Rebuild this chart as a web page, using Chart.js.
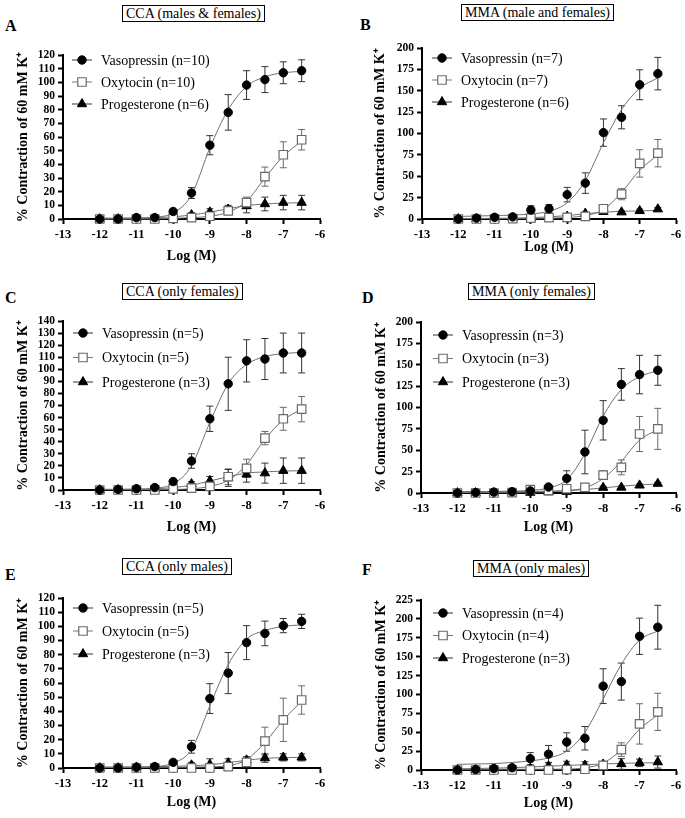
<!DOCTYPE html>
<html><head><meta charset="utf-8">
<script src="https://cdn.jsdelivr.net/npm/chart.js@4.4.1/dist/chart.umd.min.js"></script>
<style>
html,body{margin:0;padding:0;background:#fff;}
body{width:685px;height:818px;position:relative;overflow:hidden;font-family:'Liberation Serif','Times New Roman',serif;color:#000;}
.letter{position:absolute;font-weight:bold;font-size:16px;line-height:16px;}
.box{position:absolute;border:1.5px solid #000;font-size:14px;line-height:14px;padding:1px 3px 0 3px;white-space:nowrap;}
.cw{position:absolute;}
.cw canvas{display:block;}
.preload{position:absolute;left:-1000px;top:0;font-weight:bold;}
</style></head><body>
<span class="preload">Log (M) 0123456789</span>
<div class="letter" style="left:5px;top:18px">A</div>
<div class="box" style="left:122px;top:5px">CCA (males &amp; females)</div>
<div class="letter" style="left:360px;top:17px">B</div>
<div class="box" style="left:461px;top:4px">MMA (male and females)</div>
<div class="letter" style="left:5px;top:290px">C</div>
<div class="box" style="left:122px;top:283px">CCA (only females)</div>
<div class="letter" style="left:362px;top:290px">D</div>
<div class="box" style="left:468px;top:283px">MMA (only females)</div>
<div class="letter" style="left:5px;top:567px">E</div>
<div class="box" style="left:122px;top:558px">CCA (only males)</div>
<div class="letter" style="left:362px;top:562px">F</div>
<div class="box" style="left:473px;top:560px">MMA (only males)</div>

<div class="cw" id="wA"><canvas id="cA"></canvas></div>
<div class="cw" id="wB"><canvas id="cB"></canvas></div>
<div class="cw" id="wC"><canvas id="cC"></canvas></div>
<div class="cw" id="wD"><canvas id="cD"></canvas></div>
<div class="cw" id="wE"><canvas id="cE"></canvas></div>
<div class="cw" id="wF"><canvas id="cF"></canvas></div>

<script>
// ---------------- DATA ----------------
const logConc = [-12, -11.5, -11, -10.5, -10, -9.5, -9, -8.5, -8, -7.5, -7, -6.5];
const xTickValues = [-13, -12, -11, -10, -9, -8, -7, -6];
const seriesNames = ['Vasopressin', 'Oxytocin', 'Progesterone'];
const yAxisTitle = '% Contraction of 60 mM K\u207A';
const xAxisTitle = 'Log (M)';
const panelIds = ['A', 'B', 'C', 'D', 'E', 'F'];
const yMaxes = [120, 200, 140, 200, 120, 225];
const ySteps = [10, 25, 10, 25, 10, 25];

// Panel A: CCA (males & females)
const A_n = [10, 10, 6];
const A_vaso = [0, 0, 1, 1, 5.5, 19, 54, 78, 98, 102, 107, 108.5];
const A_vasoErr = [0.5, 0.5, 0.5, 1, 1.5, 4, 7, 13, 10.5, 9.5, 8, 8];
const A_oxy = [0, 0, 0, 0, 0.5, 1, 2, 6, 12, 31, 47, 58];
const A_oxyErr = [0, 0, 0, 0, 0.5, 1, 1.5, 2, 4, 7, 9.5, 7.5];
const A_prog = [0, 0, 0.5, 0.5, 1, 3, 5, 7, 9.5, 11, 12, 12];
const A_progErr = [0, 0, 0.5, 0.5, 1, 1.5, 2.5, 3, 5, 5, 5.3, 5.3];
const A_vasoFit = [0.5, 0.5, 0.6, 1.2, 4.5, 17.5, 52, 80, 97, 104, 107, 108];
const A_oxyFit = [0, 0, 0, 0.2, 0.5, 1, 2, 5, 13, 30, 46, 57];
const A_progFit = [0.5, 0.6, 0.7, 1, 1.6, 3, 5, 7.5, 9.8, 11, 11.6, 12];

// Panel B: MMA (male and females)
const B_n = [7, 7, 6];
const B_vaso = [0, 1, 2, 2.5, 10.5, 12, 28.5, 42, 101, 119, 157, 170];
const B_vasoErr = [0.5, 0.5, 1, 1, 5, 5, 8.5, 12, 16, 13.5, 17.5, 19];
const B_oxy = [0, 0, 0, 0.5, 1, 1.5, 2, 3, 12, 29, 65, 77];
const B_oxyErr = [0, 0, 0, 0.5, 0.5, 1, 1, 1.5, 3, 6.5, 16, 16];
const B_prog = [0, 0, 0.5, 1, 1, 2, 3, 6.5, 8.5, 8, 9.5, 11.5];
const B_progErr = [0, 0, 0.5, 0.5, 0.5, 1, 1, 1.5, 2, 1.5, 2, 2];
const B_vasoFit = [3, 3.5, 4, 4.5, 6, 9, 19, 45, 89, 128, 153, 165];
const B_oxyFit = [0.5, 0.5, 0.5, 0.6, 0.8, 1, 1.8, 4, 11, 31, 57, 75];
const B_progFit = [0.5, 0.6, 0.8, 1, 1.5, 2.5, 4, 6.2, 8, 9, 9.5, 10];

// Panel C: CCA (only females)
const C_n = [5, 5, 3];
const C_vaso = [0, 0.5, 1, 2, 7, 24, 59, 88, 107, 108.5, 113.5, 113.5];
const C_vasoErr = [0.5, 0.5, 0.5, 1, 1.5, 6, 10.5, 22, 17.5, 17, 16.5, 16.5];
const C_oxy = [0, 0, 0, 0, 1, 1.5, 3, 11, 18, 43, 59, 67];
const C_oxyErr = [0, 0, 0, 0, 0.5, 1, 1.5, 6.5, 7.5, 5.5, 9.5, 10.5];
const C_prog = [0, 0, 0.5, 1, 2, 5, 7.5, 10, 13, 14, 16, 16];
const C_progErr = [0, 0, 0.5, 0.5, 1, 2, 3.7, 7, 6.5, 8.3, 10.5, 10.5];
const C_vasoFit = [0.5, 0.5, 0.7, 1.5, 5, 20, 56, 88, 104, 110.5, 113, 114];
const C_oxyFit = [0.3, 0.3, 0.3, 0.4, 0.5, 1, 3, 8, 21, 42, 58, 67];
const C_progFit = [0.5, 0.5, 0.7, 1, 2, 4, 7.5, 11, 14, 15, 15.7, 16];

// Panel D: MMA (only females)
const D_n = [3, 3, 3];
const D_vaso = [0, 0.5, 1, 1.5, 2.5, 7, 17, 48, 85, 127, 138.5, 143.5];
const D_vasoErr = [0.5, 0.5, 0.5, 0.5, 1, 3, 9, 25.5, 23, 18.5, 22.5, 17.5];
const D_oxy = [0, 0, 0, 0.5, 4, 3, 5, 6.5, 21, 30, 69, 75];
const D_oxyErr = [0, 0, 0, 0.5, 1.5, 1, 2, 2, 5, 8.7, 20.5, 24];
const D_prog = [0, 0, 0, 0.5, 0.5, 1, 1.5, 3, 6.3, 6.5, 9, 11];
const D_progErr = [0, 0, 0, 0.5, 0.5, 0.5, 1, 1, 1.5, 1.5, 1.5, 1.5];
const D_vasoFit = [1.5, 1.6, 1.8, 2.2, 3, 6, 15.5, 46, 90, 121, 136, 143];
const D_oxyFit = [1.5, 1.5, 1.5, 1.6, 1.8, 2.2, 3, 6, 17, 37, 62, 74];
const D_progFit = [0.5, 0.5, 0.6, 0.8, 1, 1.5, 2.5, 4, 6, 8, 9.5, 10.5];

// Panel E: CCA (only males)
const E_n = [5, 5, 3];
const E_vaso = [0, 0, 0.5, 1, 4, 15, 49, 67, 88.5, 95, 100.5, 103.5];
const E_vasoErr = [0.5, 0.5, 0.5, 0.5, 1, 4.5, 10.5, 14.5, 12, 8.7, 5, 5];
const E_oxy = [0, 0, 0, 0, 0, 0, 0, 1, 4, 19, 34, 48];
const E_oxyErr = [0, 0, 0, 0, 0, 0, 0, 0.5, 1, 9.8, 15.3, 10];
const E_prog = [0, 0, 0.5, 0.5, 1, 2, 2.5, 3.5, 5.5, 7, 7.5, 7.5];
const E_progErr = [0, 0, 0.5, 0.5, 1, 2, 4, 3, 2.5, 3, 2.5, 2.5];
const E_vasoFit = [0.5, 0.5, 0.6, 1, 3.5, 13, 44, 73, 91, 97, 100, 101];
const E_oxyFit = [0.5, 0.5, 0.5, 0.5, 0.5, 0.6, 0.8, 1.6, 6, 18, 34, 47];
const E_progFit = [0.5, 0.5, 0.7, 0.9, 1.2, 1.6, 2.3, 3.8, 5.5, 6.8, 7.3, 7.5];

// Panel F: MMA (only males)
const F_n = [4, 4, 3];
const F_vaso = [0, 0.5, 2, 3, 15, 21, 37, 42, 111, 117, 177, 189];
const F_vasoErr = [0.5, 0.5, 1, 1, 8, 11.5, 12.2, 15.5, 23, 24.5, 24, 29];
const F_oxy = [0, 0, 0, 0, 0, 0, 0.5, 1, 6, 27, 61, 77];
const F_oxyErr = [0, 0, 0, 0, 0, 0, 0.5, 1, 2, 9, 26.7, 24.6];
const F_prog = [0, 0, 0.5, 1, 2, 5, 6.5, 6, 7.5, 8, 9.5, 10.5];
const F_progErr = [0, 0, 0.5, 0.5, 2, 5, 5, 5, 3, 7, 5, 8];
const F_vasoFit = [7.5, 8, 8.5, 10, 12, 16, 25, 50, 94, 140, 172, 184];
const F_oxyFit = [1, 1, 1, 1, 1, 1, 1.2, 3, 9, 27, 54, 73];
const F_progFit = [1.5, 2, 2.5, 3, 4, 5, 6, 7, 8, 8.8, 9.3, 9.5];

// ---------------- LAYOUT (positions only) ----------------
const layouts = {
  A: {cl: 0,   cw: 340, L: 63,  R: 320, T: 55,  B: 219, tY: 257, ytx: 23.5, lgx: 19, lgy: 5,  lgg: 22},
  B: {cl: 340, cw: 345, L: 422, R: 676, T: 48,  B: 219, tY: 248, ytx: 40,   lgx: 20, lgy: 10, lgg: 22},
  C: {cl: 0,   cw: 340, L: 63,  R: 320, T: 321, B: 490, tY: 528, ytx: 23.5, lgx: 20, lgy: 12, lgg: 24.5},
  D: {cl: 340, cw: 345, L: 421, R: 676, T: 322, B: 493, tY: 528, ytx: 41,   lgx: 22, lgy: 13, lgg: 23.5},
  E: {cl: 0,   cw: 340, L: 63,  R: 320, T: 598, B: 768, tY: 803, ytx: 23.5, lgx: 20, lgy: 10, lgg: 23},
  F: {cl: 340, cw: 345, L: 421, R: 676, T: 600, B: 770, tY: 804, ytx: 41,   lgx: 22, lgy: 13, lgg: 22.5}
};

const seriesStyles = [
  {pointStyle: 'circle',   radius: 4.2, bg: '#000', border: '#000',    bw: 1,   err: '#333',    legLine: '#333'},
  {pointStyle: 'rect',     radius: 6,   bg: '#fff', border: '#6a6a6a', bw: 1.2, err: '#6a6a6a', legLine: '#777'},
  {pointStyle: 'triangle', radius: 5.4, bg: '#000', border: '#000',    bw: 1,   err: '#333',    legLine: '#333'}
];

const FONT = "'Liberation Serif', 'Times New Roman', Times, serif";
Chart.defaults.font.family = FONT;
Chart.defaults.color = '#000';

function drawMarker(ctx, st, x, y) {
  const r = st.radius;
  ctx.save();
  ctx.fillStyle = st.bg; ctx.strokeStyle = st.border; ctx.lineWidth = st.bw;
  ctx.beginPath();
  if (st.pointStyle === 'circle') {
    ctx.arc(x, y, r, 0, Math.PI * 2);
  } else if (st.pointStyle === 'rect') {
    const s = Math.SQRT1_2 * r;
    ctx.rect(x - s, y - s, 2 * s, 2 * s);
  } else {
    ctx.moveTo(x, y - r);
    ctx.lineTo(x + 0.866 * r, y + 0.5 * r);
    ctx.lineTo(x - 0.866 * r, y + 0.5 * r);
    ctx.closePath();
  }
  ctx.fill(); ctx.stroke();
  ctx.restore();
}

const errorBarPlugin = {
  id: 'errorBars',
  beforeDatasetsDraw(chart) {
    const ctx = chart.ctx, xs = chart.scales.x, ys = chart.scales.y, ca = chart.chartArea;
    chart.data.datasets.forEach(ds => {
      if (!ds.errors) return;
      ctx.save();
      ctx.strokeStyle = ds.errorColor; ctx.lineWidth = 1;
      ds.data.forEach((p, j) => {
        const e = ds.errors[j];
        if (!e) return;
        const px = xs.getPixelForValue(p.x);
        const yt = ys.getPixelForValue(p.y + e);
        let yb = ys.getPixelForValue(p.y - e);
        const clipB = yb > ca.bottom;
        if (clipB) yb = ca.bottom;
        ctx.beginPath();
        ctx.moveTo(px, yt); ctx.lineTo(px, yb);
        ctx.moveTo(px - 3.5, yt); ctx.lineTo(px + 3.5, yt);
        if (!clipB) { ctx.moveTo(px - 3.5, yb); ctx.lineTo(px + 3.5, yb); }
        ctx.stroke();
      });
      ctx.restore();
    });
  }
};

const insideLegendPlugin = {
  id: 'insideLegend',
  afterDraw(chart, args, o) {
    const ctx = chart.ctx, ca = chart.chartArea;
    o.items.forEach((it, i) => {
      const mx = ca.left + o.dx, my = ca.top + o.dy + i * o.gap;
      ctx.save();
      ctx.strokeStyle = it.style.legLine; ctx.lineWidth = 1;
      ctx.beginPath(); ctx.moveTo(mx - 10, my); ctx.lineTo(mx + 10, my); ctx.stroke();
      drawMarker(ctx, it.style, mx, my);
      ctx.fillStyle = '#000';
      ctx.font = '14px ' + FONT;
      ctx.textAlign = 'left'; ctx.textBaseline = 'middle';
      ctx.fillText(it.text, mx + 19, my + 1);
      ctx.restore();
    });
  }
};

const panelData = {
  A: {n: A_n, means: [A_vaso, A_oxy, A_prog], errs: [A_vasoErr, A_oxyErr, A_progErr], fits: [A_vasoFit, A_oxyFit, A_progFit]},
  B: {n: B_n, means: [B_vaso, B_oxy, B_prog], errs: [B_vasoErr, B_oxyErr, B_progErr], fits: [B_vasoFit, B_oxyFit, B_progFit]},
  C: {n: C_n, means: [C_vaso, C_oxy, C_prog], errs: [C_vasoErr, C_oxyErr, C_progErr], fits: [C_vasoFit, C_oxyFit, C_progFit]},
  D: {n: D_n, means: [D_vaso, D_oxy, D_prog], errs: [D_vasoErr, D_oxyErr, D_progErr], fits: [D_vasoFit, D_oxyFit, D_progFit]},
  E: {n: E_n, means: [E_vaso, E_oxy, E_prog], errs: [E_vasoErr, E_oxyErr, E_progErr], fits: [E_vasoFit, E_oxyFit, E_progFit]},
  F: {n: F_n, means: [F_vaso, F_oxy, F_prog], errs: [F_vasoErr, F_oxyErr, F_progErr], fits: [F_vasoFit, F_oxyFit, F_progFit]}
};

const PAD_TOP = 10;
panelIds.forEach((id, pi) => {
  const lay = layouts[id], pd = panelData[id];
  const hx = Math.round(lay.tY - lay.B + 8.4 + 2);
  const cTop = lay.T - PAD_TOP;
  const cH = PAD_TOP + (lay.B - lay.T) + hx;
  const wrap = document.getElementById('w' + id);
  wrap.style.left = lay.cl + 'px'; wrap.style.top = cTop + 'px';
  wrap.style.width = lay.cw + 'px'; wrap.style.height = cH + 'px';
  const canvas = document.getElementById('c' + id);
  canvas.width = lay.cw; canvas.height = cH;
  canvas.style.width = lay.cw + 'px'; canvas.style.height = cH + 'px';

  const datasets = [];
  pd.fits.forEach((fit, k) => {
    datasets.push({
      label: seriesNames[k] + ' fit', showLine: true,
      data: logConc.map((x, j) => ({x: x, y: fit[j]})),
      borderColor: '#707070', borderWidth: 1, pointRadius: 0,
      cubicInterpolationMode: 'monotone', order: 10 + k, clip: false
    });
  });
  pd.means.forEach((m, k) => {
    const st = seriesStyles[k];
    datasets.push({
      label: seriesNames[k] + ' (n=' + pd.n[k] + ')', showLine: false,
      data: logConc.map((x, j) => ({x: x, y: m[j]})),
      errors: pd.errs[k], errorColor: st.err,
      pointStyle: st.pointStyle, pointRadius: st.radius,
      pointBackgroundColor: st.bg, pointBorderColor: st.border, pointBorderWidth: st.bw,
      order: 1 + k, clip: false
    });
  });

  new Chart(canvas, {
    type: 'scatter',
    data: {datasets: datasets},
    plugins: [errorBarPlugin, insideLegendPlugin],
    options: {
      responsive: false, animation: false, events: [],
      layout: {padding: {left: 0, right: lay.cl + lay.cw - lay.R, top: PAD_TOP, bottom: 0}},
      plugins: {
        legend: {display: false}, tooltip: {enabled: false},
        insideLegend: {
          dx: lay.lgx, dy: lay.lgy, gap: lay.lgg,
          items: seriesNames.map((s, k) => ({text: s + ' (n=' + pd.n[k] + ')', style: seriesStyles[k]}))
        }
      },
      scales: {
        x: {
          type: 'linear', min: -13, max: -6,
          afterFit(s) { s.height = hx; },
          afterBuildTicks(s) { s.ticks = xTickValues.map(v => ({value: v})); },
          ticks: {color: '#000', font: {family: FONT, size: 12.5, weight: 'bold'}, padding: 3, maxRotation: 0, autoSkip: false},
          grid: {display: true, drawOnChartArea: false, drawTicks: true, tickLength: 5, tickWidth: 2, tickColor: '#000'},
          border: {display: true, color: '#000', width: 2},
          title: {display: true, text: xAxisTitle, color: '#000', font: {family: FONT, size: 14, weight: 'bold'}, padding: {top: 0, bottom: 2}}
        },
        y: {
          type: 'linear', min: 0, max: yMaxes[pi],
          afterFit(s) { s.width = lay.L - lay.cl; },
          ticks: {stepSize: ySteps[pi], color: '#000', font: {family: FONT, size: 11.5, weight: 'bold'}, padding: 3, autoSkip: false},
          grid: {display: true, drawOnChartArea: false, drawTicks: true, tickLength: 5, tickWidth: 2, tickColor: '#000'},
          border: {display: true, color: '#000', width: 2},
          title: {display: true, text: yAxisTitle, color: '#000', font: {family: FONT, size: 14, weight: 'bold'}, padding: {top: lay.ytx - 8.4, bottom: 0}}
        }
      }
    }
  });
});
</script>
</body></html>
